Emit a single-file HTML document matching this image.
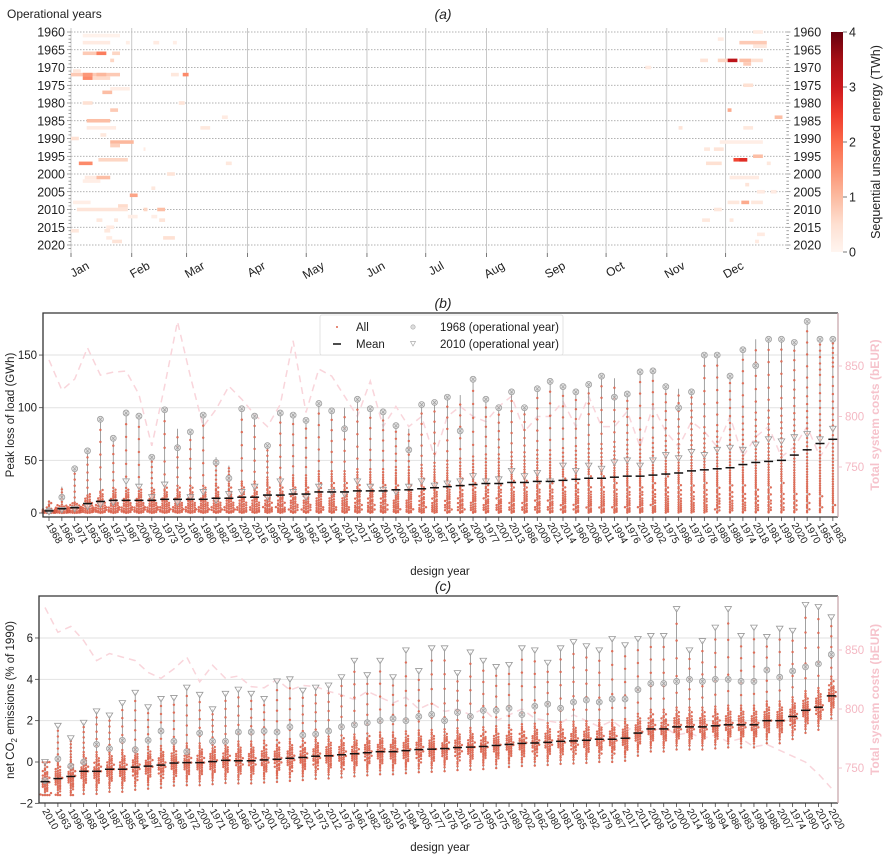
<!DOCTYPE html>
<html><head><meta charset="utf-8"><title>Chart</title>
<style>
html,body{margin:0;padding:0;background:#fff;}
svg{display:block;font-family:"Liberation Sans",sans-serif;}
</style></head>
<body>
<svg id="fig" width="887" height="855" viewBox="0 0 887 855" xmlns="http://www.w3.org/2000/svg">
<defs>
<linearGradient id="cbar" x1="0" y1="1" x2="0" y2="0">
<stop offset="0" stop-color="#fff5f0"/><stop offset="0.125" stop-color="#fee0d2"/><stop offset="0.25" stop-color="#fcbba1"/><stop offset="0.375" stop-color="#fc9272"/><stop offset="0.5" stop-color="#fb6a4a"/><stop offset="0.625" stop-color="#ef3b2c"/><stop offset="0.75" stop-color="#cb181d"/><stop offset="0.875" stop-color="#a50f15"/><stop offset="1" stop-color="#67000d"/>
</linearGradient>
</defs>
<g id="pa"></g>
<g id="pb"></g>
<g id="pc"></g>
</svg>
<script>
// ---------- Panel (a) data ----------
const monthLabels = ["Jan","Feb","Mar","Apr","May","Jun","Jul","Aug","Sep","Oct","Nov","Dec"];
const monthStartDays = [0,31,59,90,120,151,181,212,243,273,304,334];
const yearTicks = [1960,1965,1970,1975,1980,1985,1990,1995,2000,2005,2010,2015,2020];
const cbTicks = [0,1,2,3,4];
const cellYear  = [1966,1966,1966,1963,1963,1963,1963,1961,1968,1972,1972,1972,1972,1972,1973,1973,1971,1977,1976,1980,1980,1982,1985,1987,1987,1984,1989,1990,1991,1992,1993,1996,1997,1997,2000,2001,2001,2002,2004,2006,2009,2008,2010,2010,2010,2012,2012,2013,2013,2013,2015,2016,2016,2018,2018,2019,
 1960,1963,1964,1962,1968,1968,1968,1968,1968,1969,1975,1982,1984,1987,1987,1991,1993,1993,1995,1996,1996,1997,1997,2001,2003,2005,2005,2008,2008,2008,2010,2013,2013,2017,2019,1970];
const cellStart = [6,13,21,6,28,42,52,6,20,0,6,13,57,51,6,11,1,16,20,6,55,20,8,8,66,77,15,0,20,20,37,14,4,79,49,13,7,6,41,30,24,1,3,37,44,29,41,13,22,45,18,0,17,18,47,21,
 348,341,348,330,335,321,330,341,347,343,343,335,359,343,310,331,323,328,348,338,341,324,355,336,344,350,357,342,335,347,328,322,336,350,349,293];
const cellEnd   = [18,18,25,20,30,45,54,25,22,25,11,18,60,55,11,20,5,21,30,11,58,24,20,23,71,80,18,4,32,25,38,29,11,82,53,20,13,15,43,34,29,10,29,39,48,34,44,16,24,48,22,4,20,21,53,26,
 353,355,355,333,340,325,335,347,353,347,348,337,363,348,312,353,326,333,353,345,345,332,357,351,346,354,360,346,341,353,332,326,338,354,351,296];
const cellVal   = [1.0,2.2,0.8,0.3,0.2,0.3,0.2,0.1,0.8,1.0,1.8,1.3,2.0,0.4,2.0,0.7,0.4,1.2,0.2,0.6,0.5,1.0,1.2,0.3,0.4,0.3,0.4,0.6,1.3,0.9,0.3,0.8,2.0,0.4,0.5,1.2,0.3,0.2,0.4,1.6,0.7,0.2,0.5,0.8,1.2,0.2,0.2,0.4,0.4,0.5,0.3,0.4,0.4,0.3,0.6,0.5,
 0.3,1.0,0.4,0.3,4.0,0.5,0.8,1.2,0.6,1.0,0.6,1.5,1.2,0.4,0.5,0.2,0.4,0.5,1.2,3.0,3.4,0.6,0.4,0.3,0.5,0.3,0.3,1.5,0.4,0.4,0.4,0.4,0.4,0.3,0.3,0.3];

// ---------- Panel (b) data ----------
const yearsB = [1968,1966,1971,1963,1985,1972,1987,2006,2000,1973,2010,1969,1980,1982,1997,2001,2016,1995,2004,1996,1962,1991,1964,2012,2017,1990,2015,2003,1992,1993,1967,1961,1984,2005,1977,2007,2013,1986,2009,2021,2014,1960,2008,2011,1994,1976,2019,2002,1975,1998,1979,1978,1989,1988,1974,2018,1981,1999,2020,1970,1965,1983];
const meanB = [2,4,5,9,11,12,12,12,12,13,13,13,13,14,14,15,15,17,17,18,18,20,20,20,21,21,21,22,22,23,24,25,26,27,28,28,29,29,30,30,31,32,33,33,34,35,35,36,37,38,40,41,42,43,46,48,49,50,55,60,66,70];
const maxB = [12,25,42,59,89,71,95,92,53,98,80,77,93,53,45,99,92,64,95,93,88,104,97,100,108,99,96,83,80,103,105,110,112,127,108,100,115,100,118,125,120,115,122,130,128,113,134,135,120,118,115,150,150,130,155,165,165,165,162,182,165,165];
const op1968B = [2,15,42,59,89,71,95,92,53,98,62,77,93,48,33,99,92,64,95,93,88,104,97,80,108,99,96,83,60,103,105,110,78,127,108,100,115,100,118,125,120,115,122,130,110,113,134,135,120,100,115,150,150,130,155,140,165,165,162,182,165,165];
const op2010B = [1,3,4,6,8,10,30,25,15,27,10,15,20,12,18,20,25,15,30,20,15,25,20,18,30,25,22,20,25,30,26,28,30,35,30,32,40,35,38,30,45,40,45,42,48,50,45,50,55,52,58,55,60,62,60,65,70,68,72,75,70,80];
const costB = [856,826,837,868,841,844,845,822,771,830,894,840,790,807,830,817,802,790,812,875,804,847,840,820,800,835,790,810,790,800,760,800,810,800,795,810,820,785,800,800,815,790,820,790,790,805,770,810,785,770,795,785,770,800,760,780,790,760,770,790,760,780];
const ticksB = [0,50,100,150];
const costTicksB = [750,800,850];

// ---------- Panel (c) data ----------
const yearsC = [2010,1963,1996,1968,1991,1987,1985,1964,1997,2006,1969,1972,2009,1971,1960,1966,2013,2001,2003,2004,2021,1973,2012,1976,1961,1982,1993,2016,1984,2005,1977,1978,2018,1970,1995,1975,1989,2002,1962,1980,1981,1965,1992,1979,1967,2017,2011,2008,2019,2000,2014,1999,1994,1986,1983,1998,1988,2007,1974,1990,2015,2020];
const meanC = [-0.95,-0.8,-0.7,-0.45,-0.45,-0.35,-0.35,-0.25,-0.2,-0.15,-0.05,-0.03,-0.03,0.02,0.08,0.06,0.06,0.1,0.13,0.18,0.22,0.28,0.3,0.35,0.4,0.45,0.5,0.5,0.55,0.6,0.62,0.65,0.7,0.72,0.75,0.8,0.85,0.9,0.92,0.95,1.0,1.02,1.05,1.1,1.1,1.15,1.4,1.6,1.6,1.7,1.7,1.7,1.75,1.8,1.8,1.8,2.0,2.0,2.2,2.5,2.65,3.2];
const maxC = [0,1.75,1.15,1.9,2.45,2.25,2.85,3.35,2.65,3.05,3.1,3.6,3.25,2.55,3.3,3.5,3.3,3.05,3.9,4.0,3.45,3.6,3.7,4.1,4.9,4.2,4.9,4.1,5.4,4.4,5.5,5.5,4.3,5.3,4.9,4.6,4.7,5.5,5.4,4.8,5.5,5.8,5.6,5.4,5.95,5.65,5.95,6.1,6.1,7.4,5.4,5.85,6.5,7.4,6.1,6.5,6.05,6.45,6.35,7.6,7.5,7.0];
const op1968C = [-0.9,0.15,-0.2,0,0.85,0.65,1.05,0.6,1.05,1.5,1.0,0.5,1.4,1.0,1.0,1.45,1.45,1.5,1.45,1.7,1.3,1.35,1.5,1.7,1.8,1.9,2.0,2.1,2.0,2.2,2.3,2.0,2.4,2.2,2.5,2.5,2.6,2.3,2.7,2.8,2.6,2.9,3.0,2.9,3.05,3.05,3.5,3.8,3.8,3.9,4.0,3.9,4.0,4.0,3.9,3.9,4.45,4.1,4.4,4.6,4.75,5.2];
const costC = [886,865,870,858,841,847,844,841,831,826,834,844,823,837,826,828,819,818,825,816,820,819,815,812,808,815,810,805,810,800,805,798,800,795,800,790,795,800,792,790,788,795,790,785,790,782,785,780,785,778,780,775,778,772,775,768,770,765,760,755,745,733];
const ticksC = [-2,0,2,4,6];
const costTicksC = [750,800,850];

// ---------- helpers ----------
const NS = "http://www.w3.org/2000/svg";
function mk(parent, tag, attrs, text){
  const e = document.createElementNS(NS, tag);
  for (const k in attrs) e.setAttribute(k, attrs[k]);
  if (text !== undefined) e.textContent = text;
  parent.appendChild(e);
  return e;
}
const redsStops = ["#fff5f0","#fee0d2","#fcbba1","#fc9272","#fb6a4a","#ef3b2c","#cb181d","#a50f15","#67000d"];
function hex2rgb(h){return [parseInt(h.substr(1,2),16),parseInt(h.substr(3,2),16),parseInt(h.substr(5,2),16)];}
function reds(v){
  let t = Math.max(0,Math.min(1,v/4))*8;
  const i = Math.min(7,Math.floor(t)); const f = t-i;
  const a = hex2rgb(redsStops[i]), b = hex2rgb(redsStops[i+1]);
  return "rgb("+a.map((c,k)=>Math.round(c+(b[k]-c)*f)).join(",")+")";
}

// ---------- Panel (a) ----------
(function(){
  const g = document.getElementById("pa");
  const x0 = 71, pxPerDay = 1.96, y0 = 32, pxPerYear = 3.55;
  const dayX = d => x0 + d*pxPerDay;
  const yearY = y => y0 + (y-1960)*pxPerYear;
  const xEnd = dayX(365);
  let t = mk(g,"text",{x:7,y:18,"font-size":12,fill:"#222"},"Operational years");
  
  
  t = mk(g,"text",{x:443,y:19,"font-size":14,"font-style":"italic","text-anchor":"middle",fill:"#222"},"(a)");
  
  
  yearTicks.forEach(y=>{
    const l = mk(g,"line",{x1:x0,x2:xEnd,y1:yearY(y),y2:yearY(y),stroke:"#999","stroke-width":0.7,"stroke-dasharray":"1.5,1.5"});
    
    
  });
  monthStartDays.forEach((d,i)=>{
    const l = mk(g,"line",{x1:dayX(d),x2:dayX(d),y1:28,y2:253,stroke:"#bbb","stroke-width":0.8});
    
    
    const tk = mk(g,"line",{x1:dayX(d),x2:dayX(d),y1:253,y2:257,stroke:"#555","stroke-width":0.8});
    
    
    const lb = mk(g,"text",{x:dayX(d)+19,y:268,"font-size":12,fill:"#222","text-anchor":"end",transform:"rotate(-30 "+(dayX(d)+19)+" 268)"},monthLabels[i]);
    
    
  });
  for (let i=0;i<cellYear.length;i++){
    const r = mk(g,"rect",{x:dayX(cellStart[i]),y:yearY(cellYear[i])-pxPerYear/2,width:Math.max(1.5,(cellEnd[i]-cellStart[i])*pxPerDay),height:pxPerYear,fill:reds(cellVal[i]*0.8)});
    
    
  }
  for (let y=1960;y<=2021;y++){
    const major = (y%5===0);
    const len = major?4:2.5;
    let a = mk(g,"line",{x1:x0-len,x2:x0,y1:yearY(y),y2:yearY(y),stroke:"#666","stroke-width":0.6});
    
    
    a = mk(g,"line",{x1:xEnd,x2:xEnd+len,y1:yearY(y),y2:yearY(y),stroke:"#666","stroke-width":0.6});
    
    
  }
  yearTicks.forEach(y=>{
    let a = mk(g,"text",{x:x0-6,y:yearY(y)+4.5,"font-size":12.5,fill:"#222","text-anchor":"end"},String(y));
    
    
    a = mk(g,"text",{x:xEnd+7,y:yearY(y)+4.5,"font-size":12.5,fill:"#222"},String(y));
    
    
  });
  const cbTop=32, cbBot=252, cbX=831, cbW=12;
  const cb = mk(g,"rect",{x:cbX,y:cbTop,width:cbW,height:cbBot-cbTop,fill:"url(#cbar)"});
  
  
  cbTicks.forEach(v=>{
    const yy = cbBot - v/4*(cbBot-cbTop);
    let a = mk(g,"line",{x1:cbX+cbW,x2:cbX+cbW+4,y1:yy,y2:yy,stroke:"#555","stroke-width":0.8});
    
    
    a = mk(g,"text",{x:cbX+cbW+6,y:yy+4.5,"font-size":12.5,fill:"#222"},String(v));
    
    
  });
  t = mk(g,"text",{x:0,y:0,"font-size":12.5,fill:"#222","text-anchor":"middle",transform:"translate(880 142) rotate(-90)"},"Sequential unserved energy (TWh)");
  
  
})();

// ---------- swarm panel builder ----------
function swarmPanel(gid, cfg){
  const g = document.getElementById(gid);
  const {left,right,top,bottom,x0,dx,yv,yc,cats,means,maxs,op68,op10,cost,ticks,costTicks,title,titleY,ylabel,ylabelY,xlabelY,dist,minFloor} = cfg;
  const xi = i => x0 + i*dx;
  let t = mk(g,"text",{x:443,y:titleY,"font-size":14,"font-style":"italic","text-anchor":"middle",fill:"#222"},title);
  
  
  ticks.forEach(v=>{
    if (yv(v) > top+2 && yv(v) < bottom-2 && v!==0 && v!==-2){
      const l = mk(g,"line",{x1:left,x2:right,y1:yv(v),y2:yv(v),stroke:"#e2e2e2","stroke-width":1});
      
      
    }
  });
  let d = "";
  cost.forEach((c,i)=>{ d += (i?"L":"M")+xi(i).toFixed(1)+","+yc(c).toFixed(1); });
  const cl = mk(g,"path",{d:d,fill:"none",stroke:"#f9d5db","stroke-width":1.5,"stroke-dasharray":"7,5"});
  
  
  const N = 40;
  cats.forEach((yr,i)=>{
    const m = means[i], mx = maxs[i];
    const vals = [];
    for (let k=0;k<N;k++){
      let v;
      if (dist==="exp"){ const q = (k+0.5)/N*0.86; v = -m*Math.log(1-q)*1.05; }
      else { const q = 0.02 + (k+0.5)/N*0.94; v = m + 0.32*Math.log(q/(1-q)); }
      if (minFloor!==null) v = Math.max(minFloor, v);
      vals.push(Math.min(mx, v));
    }
    const lo = Math.max(...vals);
    [0.15,0.32,0.5,0.68,0.85].forEach(f=>{ vals.push(lo + (mx-lo)*f); });
    const vmin = Math.min(...vals);
    const wl = mk(g,"line",{x1:xi(i),x2:xi(i),y1:yv(vmin),y2:yv(mx),stroke:"#8a8a8a","stroke-width":0.8});
    
    
    const bins = {};
    vals.forEach(v=>{
      const py = yv(v);
      const b = Math.round(py/2.2);
      const j = bins[b] = (bins[b]||0)+1;
      let off = (j===1)?0:((j%2===0)?1:-1)*Math.ceil((j-1)/2)*2.2;
      off = Math.max(-6,Math.min(6,off));
      const c = mk(g,"circle",{cx:(xi(i)+off).toFixed(1),cy:py.toFixed(1),r:1.05,fill:"#e3705a",stroke:"#c94a35","stroke-width":0.25});
      
      
    });
    const cx = xi(i), cy = yv(op68[i]);
    const mg = mk(g,"g",{});
    
    
    mk(mg,"circle",{cx:cx,cy:cy,r:3,fill:"#d8d8d8","fill-opacity":0.7,stroke:"#999","stroke-width":0.7});
    mk(mg,"path",{d:"M"+(cx-1.8)+","+(cy-1.8)+"L"+(cx+1.8)+","+(cy+1.8)+"M"+(cx+1.8)+","+(cy-1.8)+"L"+(cx-1.8)+","+(cy+1.8),stroke:"#999","stroke-width":0.6});
    const ty = yv(op10[i]);
    const tr = mk(g,"path",{d:"M"+(cx-3.3)+","+(ty-2.5)+"L"+(cx+3.3)+","+(ty-2.5)+"L"+cx+","+(ty+3)+"Z",fill:"#fff","fill-opacity":0.5,stroke:"#999","stroke-width":0.8});
    
    
    const ml = mk(g,"line",{x1:xi(i)-4.5,x2:xi(i)+4.5,y1:yv(m),y2:yv(m),stroke:"#111","stroke-width":1.5});
    
    
    const tk = mk(g,"line",{x1:xi(i),x2:xi(i),y1:bottom,y2:bottom+4,stroke:"#444","stroke-width":0.8});
    
    
    const lb = mk(g,"text",{x:xi(i)-3,y:bottom+8,"font-size":10,fill:"#222",transform:"rotate(60 "+(xi(i)-3)+" "+(bottom+8)+")"},String(yr));
    
    
  });
  const fr = mk(g,"path",{d:"M"+right+","+top+"L"+left+","+top+"L"+left+","+bottom+"L"+right+","+bottom,fill:"none",stroke:"#333","stroke-width":1.3});
  
  
  const rs = mk(g,"line",{x1:right,x2:right,y1:top,y2:bottom,stroke:"#c9a9ae","stroke-width":1.3});
  
  
  ticks.forEach(v=>{
    let a = mk(g,"line",{x1:left-4,x2:left,y1:yv(v),y2:yv(v),stroke:"#444","stroke-width":0.8});
    
    
    a = mk(g,"text",{x:left-6,y:yv(v)+4,"font-size":11.5,fill:"#222","text-anchor":"end"},(v<0?"\u2212"+Math.abs(v):String(v)));
    
    
  });
  costTicks.forEach(v=>{
    let a = mk(g,"line",{x1:right,x2:right+4,y1:yc(v),y2:yc(v),stroke:"#f4b8c3","stroke-width":0.8});
    
    
    a = mk(g,"text",{x:right+7,y:yc(v)+4,"font-size":11.5,fill:"#f4b8c3"},String(v));
    
    
  });
  const cy0 = (top+bottom)/2;
  t = mk(g,"text",{x:0,y:0,"font-size":12,"font-weight":"bold",fill:"#f6c3cc","text-anchor":"middle",transform:"translate(879 "+cy0+") rotate(-90)"},"Total system costs (bEUR)");
  
  
  t = mk(g,"text",{x:0,y:0,"font-size":11.5,fill:"#222","text-anchor":"middle",transform:"translate(14 "+ylabelY+") rotate(-90)"},"");
  
  
  ylabel(t);
  t = mk(g,"text",{x:440,y:xlabelY,"font-size":11.5,fill:"#222","text-anchor":"middle"},"design year");
  
  
  return g;
}

const gB = swarmPanel("pb",{
  left:43,right:838,top:313,bottom:517,x0:49,dx:12.85,
  yv:v=>513-v*1.053, yc:c=>467-(c-750)*1.01,
  cats:yearsB,means:meanB,maxs:maxB,op68:op1968B,op10:op2010B,cost:costB,
  ticks:ticksB,costTicks:costTicksB,title:"(b)",titleY:308,
  ylabel:t=>{t.textContent="Peak loss of load (GWh)";},ylabelY:415,xlabelY:575,dist:"exp",minFloor:0
});
(function(){
  const g = mk(gB,"g",{});
  
  
  mk(g,"rect",{x:320,y:315,width:243,height:40,fill:"#fff","fill-opacity":0.85,stroke:"#ddd","stroke-width":0.8,rx:2});
  let e = mk(g,"circle",{cx:337,cy:327,r:1,fill:"#e0664f"});
  
  
  e = mk(g,"text",{x:356,y:331,"font-size":11.5,fill:"#222"},"All");
  
  
  e = mk(g,"line",{x1:333,x2:341,y1:344,y2:344,stroke:"#111","stroke-width":1.5});
  
  
  e = mk(g,"text",{x:356,y:348,"font-size":11.5,fill:"#222"},"Mean");
  
  
  e = mk(g,"circle",{cx:413,cy:327,r:2.2,fill:"#ddd",stroke:"#aaa","stroke-width":0.6});
  
  
  e = mk(g,"text",{x:440,y:331,"font-size":11.5,fill:"#222"},"1968 (operational year)");
  
  
  e = mk(g,"path",{d:"M410.5,341.5L415.5,341.5L413,346Z",fill:"none",stroke:"#aaa","stroke-width":0.7});
  
  
  e = mk(g,"text",{x:440,y:348,"font-size":11.5,fill:"#222"},"2010 (operational year)");
  
  
})();

swarmPanel("pc",{
  left:39,right:838,top:596,bottom:803,x0:45,dx:12.89,
  yv:v=>762-v*20.67, yc:c=>768-(c-750)*1.18,
  cats:yearsC,means:meanC,maxs:maxC,op68:op1968C,op10:maxC,cost:costC,
  ticks:ticksC,costTicks:costTicksC,title:"(c)",titleY:591,
  ylabel:t=>{
    mk(t,"tspan",{},"net CO");
    mk(t,"tspan",{"font-size":8,dy:3},"2");
    mk(t,"tspan",{dy:-3}," emissions (% of 1990)");
  },ylabelY:700,xlabelY:851,dist:"logit",minFloor:-1.6
});
</script>
</body></html>
